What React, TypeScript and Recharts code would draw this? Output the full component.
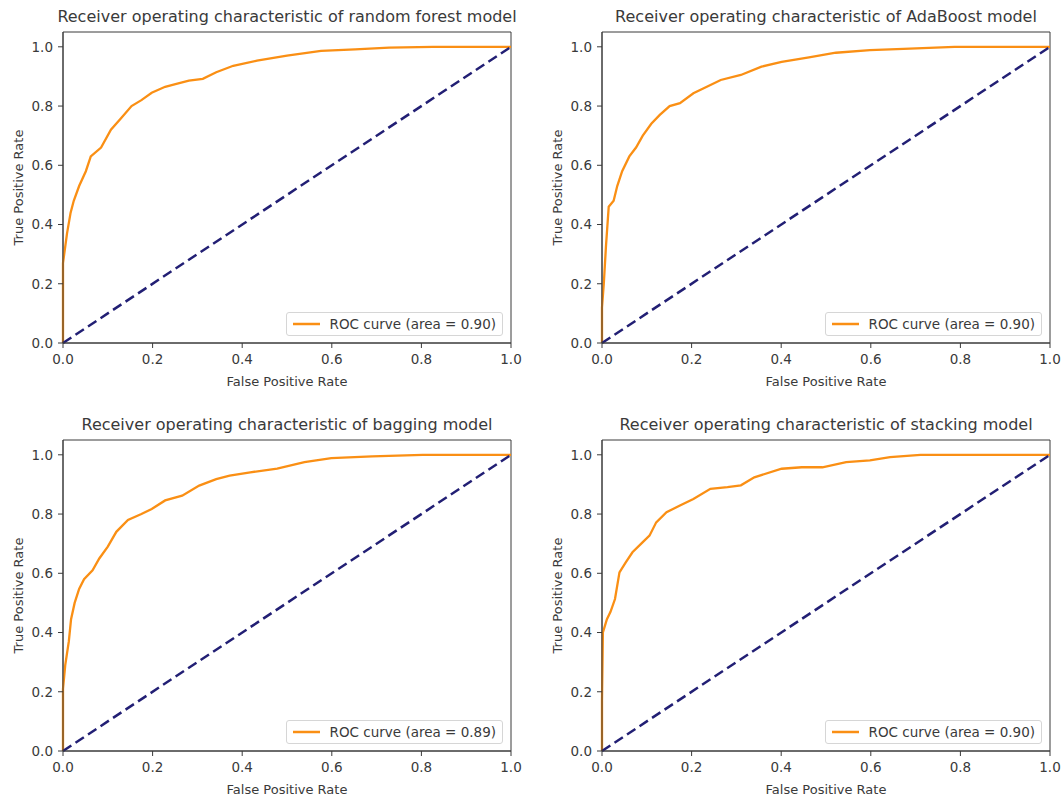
import { LineChart, Line, XAxis, YAxis, ReferenceArea, Legend, Label } from 'recharts';

// ROC curves (false positive rate -> true positive rate)
const RF_FPR = [0, 0, 0.009, 0.017, 0.024, 0.036, 0.051, 0.062, 0.085, 0.107, 0.13, 0.153, 0.175, 0.198, 0.228, 0.251, 0.281, 0.312, 0.342, 0.38, 0.433, 0.5, 0.576, 0.652, 0.728, 0.826, 1];
const RF_TPR = [0, 0.27, 0.37, 0.44, 0.48, 0.53, 0.58, 0.63, 0.66, 0.72, 0.76, 0.8, 0.82, 0.845, 0.865, 0.874, 0.886, 0.892, 0.914, 0.936, 0.953, 0.97, 0.986, 0.991, 0.997, 1, 1];

const ADA_FPR = [0, 0, 0.004, 0.009, 0.015, 0.026, 0.034, 0.045, 0.061, 0.076, 0.091, 0.11, 0.129, 0.151, 0.174, 0.204, 0.234, 0.265, 0.31, 0.356, 0.401, 0.462, 0.522, 0.598, 0.673, 0.787, 1];
const ADA_TPR = [0, 0.12, 0.2, 0.33, 0.46, 0.48, 0.53, 0.58, 0.63, 0.66, 0.7, 0.74, 0.77, 0.8, 0.81, 0.843, 0.865, 0.888, 0.905, 0.933, 0.949, 0.964, 0.98, 0.989, 0.993, 1, 1];

const BAG_FPR = [0, 0, 0.005, 0.013, 0.018, 0.026, 0.036, 0.047, 0.066, 0.081, 0.1, 0.119, 0.145, 0.175, 0.198, 0.228, 0.266, 0.304, 0.342, 0.372, 0.418, 0.478, 0.539, 0.599, 0.69, 0.803, 1];
const BAG_TPR = [0, 0.21, 0.29, 0.37, 0.445, 0.5, 0.547, 0.58, 0.61, 0.65, 0.69, 0.74, 0.78, 0.8, 0.817, 0.846, 0.862, 0.896, 0.918, 0.93, 0.941, 0.953, 0.975, 0.989, 0.995, 1, 1];

const STK_FPR = [0, 0, 0.002, 0.011, 0.019, 0.029, 0.039, 0.053, 0.068, 0.091, 0.106, 0.121, 0.144, 0.174, 0.204, 0.242, 0.28, 0.31, 0.34, 0.401, 0.446, 0.492, 0.545, 0.598, 0.643, 0.711, 1];
const STK_TPR = [0, 0.17, 0.4, 0.445, 0.47, 0.513, 0.603, 0.637, 0.671, 0.705, 0.727, 0.772, 0.806, 0.829, 0.851, 0.885, 0.891, 0.897, 0.924, 0.953, 0.958, 0.958, 0.975, 0.981, 0.992, 1, 1];

const CHANCE_FPR = [0, 1];
const CHANCE_TPR = [0, 1];

const TICKS = [0, 0.2, 0.4, 0.6, 0.8, 1.0];

const MODELS = ['random forest', 'AdaBoost', 'bagging', 'stacking'];
const AUCS = ['0.90', '0.90', '0.89', '0.90'];

const ORANGE = '#fa8f14';
const NAVY = '#221f74';
const INK = '#3a3a3a';
const FONT = '"DejaVu Sans", sans-serif';

const toPoints = (xs: number[], ys: number[]) => xs.map((x, i) => ({ fpr: x, tpr: ys[i] }));

function RocLegend({ label }: { label: string }) {
  return (
    <div
      style={{
        border: '1px solid #d6d6d6',
        borderRadius: 3,
        background: 'rgba(255,255,255,0.85)',
        padding: '2px 6px 2px 6px',
        display: 'flex',
        alignItems: 'center',
        fontSize: 13.5,
        lineHeight: '18px',
        color: INK,
        whiteSpace: 'nowrap',
        fontFamily: FONT,
      }}
    >
      <svg width={27} height={10} style={{ marginRight: 10 }}>
        <line x1={0} y1={5} x2={27} y2={5} stroke={ORANGE} strokeWidth={2.5} />
      </svg>
      <span>{label}</span>
    </div>
  );
}

interface PanelProps {
  left: number;
  top: number;
  model: string;
  auc: string;
  fpr: number[];
  tpr: number[];
}

function RocPanel({ left, top, model, auc, fpr, tpr }: PanelProps) {
  const tickStyle = { fontSize: 13.5, fill: INK, fontFamily: FONT };
  return (
    <div style={{ position: 'absolute', left, top, width: 522, height: 391 }}>
      <div
        style={{
          position: 'absolute',
          left: 30,
          width: 514,
          top: 7,
          textAlign: 'center',
          fontSize: 16,
          lineHeight: '20px',
          color: INK,
          fontFamily: FONT,
          whiteSpace: 'nowrap',
        }}
      >
        {`Receiver operating characteristic of ${model} model`}
      </div>
      <LineChart
        width={522}
        height={391}
        margin={{ top: 32, right: 11, bottom: 8, left: 18 }}
        style={{ fontFamily: FONT }}
      >
        <XAxis
          type="number"
          dataKey="fpr"
          domain={[0, 1]}
          ticks={TICKS}
          tickFormatter={(v: number) => v.toFixed(1)}
          tick={tickStyle}
          tickSize={5}
          tickMargin={6}
          stroke={INK}
          height={40}
        >
          <Label value="False Positive Rate" position="insideBottom" offset={-3} style={{ fontSize: 13, fill: INK }} />
        </XAxis>
        <YAxis
          type="number"
          domain={[0, 1.05]}
          ticks={TICKS}
          tickFormatter={(v: number) => v.toFixed(1)}
          tick={tickStyle}
          tickSize={5}
          tickMargin={5}
          stroke={INK}
          width={45}
        >
          <Label
            value="True Positive Rate"
            angle={-90}
            position="insideLeft"
            offset={0}
            style={{ fontSize: 13, fill: INK, textAnchor: 'middle' }}
          />
        </YAxis>
        <ReferenceArea x1={0} x2={1} y1={0} y2={1.05} fill="none" stroke={INK} strokeWidth={1} />
        <Line
          data={toPoints(fpr, tpr)}
          dataKey="tpr"
          type="linear"
          stroke={ORANGE}
          strokeWidth={2.3}
          dot={false}
          activeDot={false}
          isAnimationActive={false}
        />
        <Line
          data={toPoints(CHANCE_FPR, CHANCE_TPR)}
          dataKey="tpr"
          type="linear"
          stroke={NAVY}
          strokeWidth={2.5}
          strokeDasharray="10 5"
          dot={false}
          activeDot={false}
          legendType="none"
          isAnimationActive={false}
        />
        <Legend
          layout="vertical"
          align="center"
          verticalAlign="middle"
          wrapperStyle={{ right: 19, bottom: 55, left: 'auto', top: 'auto' }}
          content={() => <RocLegend label={`ROC curve (area = ${auc})`} />}
        />
      </LineChart>
    </div>
  );
}

export default function App() {
  return (
    <div
      style={{
        position: 'absolute',
        left: 0,
        top: 0,
        width: 1061,
        height: 799,
        overflow: 'hidden',
        background: '#fff',
      }}
    >
      <RocPanel left={0} top={0} model={MODELS[0]} auc={AUCS[0]} fpr={RF_FPR} tpr={RF_TPR} />
      <RocPanel left={539} top={0} model={MODELS[1]} auc={AUCS[1]} fpr={ADA_FPR} tpr={ADA_TPR} />
      <RocPanel left={0} top={408} model={MODELS[2]} auc={AUCS[2]} fpr={BAG_FPR} tpr={BAG_TPR} />
      <RocPanel left={539} top={408} model={MODELS[3]} auc={AUCS[3]} fpr={STK_FPR} tpr={STK_TPR} />
    </div>
  );
}
